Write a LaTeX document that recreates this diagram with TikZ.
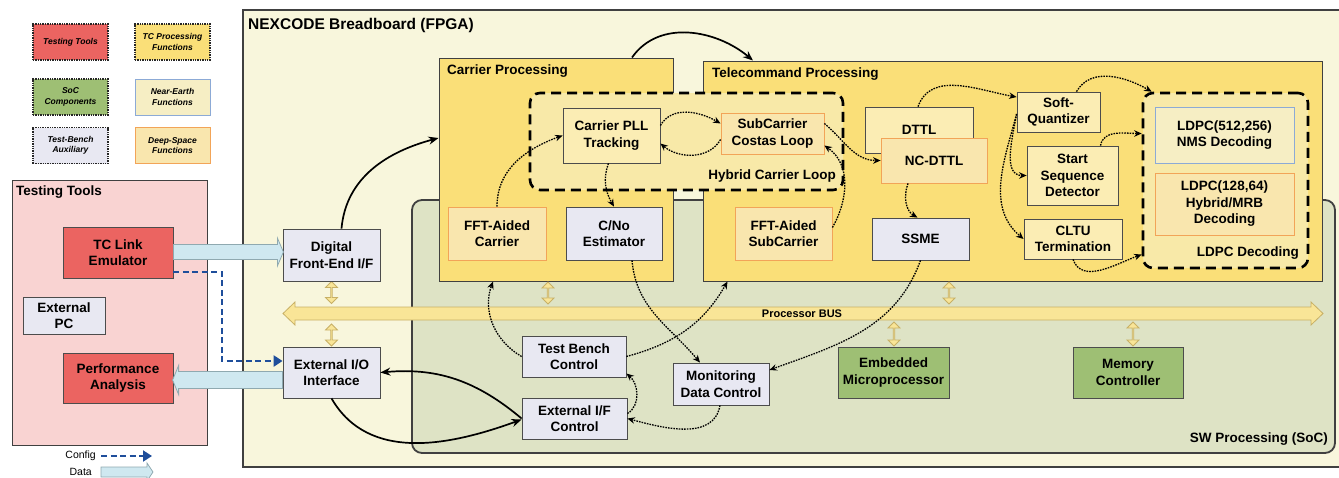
\documentclass[tikz,border=0pt]{standalone}
\usepackage{fontspec}
\setmainfont{Liberation Sans}
\usepackage{tikz}
\usetikzlibrary{arrows.meta, shapes.arrows, calc, positioning}

\definecolor{ttred}{HTML}{EB6461}
\definecolor{ttpink}{HTML}{F9D3D2}
\definecolor{tcyellow}{HTML}{FADF78}
\definecolor{socgreen}{HTML}{9EBF74}
\definecolor{swgreen}{HTML}{DEE3C5}
\definecolor{fpgacream}{HTML}{F8F6DC}
\definecolor{lav}{HTML}{E8E8F2}
\definecolor{paleyel}{HTML}{FBEDB4}
\definecolor{loopyel}{HTML}{F8E9A8}
\definecolor{neblue}{HTML}{8CAAD6}
\definecolor{nefill}{HTML}{F6EEC4}
\definecolor{dsorange}{HTML}{F2A458}
\definecolor{dsfill}{HTML}{F9E6AE}
\definecolor{busyel}{HTML}{F9E597}
\definecolor{busedge}{HTML}{C8B065}
\definecolor{datablue}{HTML}{CFE8F0}
\definecolor{dataedge}{HTML}{8FA9B0}
\definecolor{cfgblue}{HTML}{1F4E9B}

\tikzset{
    blk/.style={draw=black!70, line width=0.8pt, align=center, inner sep=0pt,
        font=\fontsize{13.5}{16.5}\selectfont\bfseries},
    lgd/.style={draw=black!85, densely dotted, line width=1.4pt, align=center, inner sep=0pt,
        minimum width=75pt, minimum height=36pt,
        font=\fontsize{8.5}{10.5}\selectfont\bfseries\itshape},
    panel/.style={draw=black!75, line width=1pt, inner sep=0pt},
    loopbox/.style={draw=black, line width=2.6pt, dash pattern=on 10pt off 6pt,
        rounded corners=10pt, fill=loopyel, inner sep=0pt},
    hdr/.style={inner sep=0pt, font=\fontsize{13.5}{16}\selectfont\bfseries},
    nearearth/.style={blk, draw=neblue, fill=nefill},
    deepspace/.style={blk, draw=dsorange, fill=dsfill},
    sig/.style={line width=1.3pt, dash pattern=on 1.6pt off 1.1pt,
        -{Stealth[length=7.5pt, width=6.5pt]}},
    flow/.style={line width=1.7pt, -{Stealth[length=10pt, width=8pt]}},
    cfg/.style={draw=cfgblue, line width=2.4pt, dash pattern=on 6pt off 3.5pt,
        -{Triangle[length=9pt, width=11pt]}},
    hollow/.style={draw=dataedge, fill=datablue, line width=0.8pt},
    busline/.style={draw=busedge, fill=busyel, line width=0.8pt},
    busarrow/.style={double arrow, draw=busedge, fill=busyel, line width=0.8pt,
        inner sep=0pt, minimum width=12pt, double arrow head extend=3pt}
}

\begin{document}
\begin{tikzpicture}[x=1pt, y=-1pt]
\useasboundingbox (0,0) rectangle (1339,477);

\node[lgd, fill=ttred] (lgtt) at (70.5,42) {Testing Tools};
\node[lgd, fill=tcyellow] (lgtc) at (172.5,42) {TC Processing\\Functions};
\node[lgd, fill=socgreen] (lgsoc) at (70.5,97) {SoC\\Components};
\node[lgd, solid, line width=0.9pt, draw=neblue, fill=nefill] (lgne) at (172.5,97) {Near-Earth\\Functions};
\node[lgd, fill=lav] (lgtb) at (70.5,145.5) {Test-Bench\\Auxiliary};
\node[lgd, solid, line width=0.9pt, draw=dsorange, fill=dsfill] (lgds) at (172.5,145.5) {Deep-Space\\Functions};

\node[panel, fill=ttpink, minimum width=195pt, minimum height=265pt] (tools) at (109.5,312.5) {};
\node[hdr, anchor=west] at (16,192) {Testing Tools};
\node[blk, fill=ttred, minimum width=110pt, minimum height=51pt] (tcle) at (118,252.5) {TC Link\\Emulator};
\node[blk, fill=lav, minimum width=82pt, minimum height=37pt] (xpc) at (64,315.5) {External\\PC};
\node[blk, fill=ttred, minimum width=110pt, minimum height=50pt] (perf) at (118,378) {Performance\\Analysis};

\node[panel, line width=1.3pt, fill=fpgacream, minimum width=1097pt, minimum height=457pt] (fpga) at (791.5,238.5) {};
\node[hdr, anchor=west, font=\fontsize{15.5}{18}\selectfont\bfseries] at (248,25) {NEXCODE Breadboard (FPGA)};

\node[panel, line width=1.8pt, rounded corners=10pt, fill=swgreen, minimum width=923pt, minimum height=253pt] (sw) at (873.5,326.5) {};
\node[hdr, anchor=east] at (1328,439) {SW Processing (SoC)};

\node[panel, fill=tcyellow, minimum width=234pt, minimum height=223pt] (carrier) at (556,169.5) {};
\node[hdr, anchor=west] at (447,71) {Carrier Processing};
\node[panel, fill=tcyellow, minimum width=619pt, minimum height=220pt] (telecom) at (1012.5,171) {};
\node[hdr, anchor=west] at (712,74) {Telecommand Processing};

\filldraw[busline] (283,313.5) -- ++(12,-11.5) -- ++(0,5) -- (1311,307) -- ++(0,-5) -- (1323,313.5)
    -- ++(-12,11.5) -- ++(0,-5) -- (295,320) -- ++(0,5) -- cycle;
\node[hdr, font=\fontsize{11}{13}\selectfont\bfseries] (bus) at (802,313.5) {Processor BUS};
\node[busarrow, shape border rotate=90, minimum height=22pt] at (331.5,292.5) {};
\node[busarrow, shape border rotate=90, minimum height=22pt] at (331.5,335) {};
\node[busarrow, shape border rotate=90, minimum height=22pt] at (548,293) {};
\node[busarrow, shape border rotate=90, minimum height=22pt] at (949,293) {};
\node[busarrow, shape border rotate=90, minimum height=24pt] at (894,334) {};
\node[busarrow, shape border rotate=90, minimum height=24pt] at (1133,334) {};

\node[loopbox, minimum width=313pt, minimum height=97pt] (hcl) at (686.5,141.5) {};
\node[hdr, anchor=east] at (836,176) {Hybrid Carrier Loop};
\node[loopbox, minimum width=165pt, minimum height=175pt] (ldpc) at (1225.5,180.5) {};
\node[hdr, anchor=east] at (1299,253) {LDPC Decoding};

\node[blk, fill=paleyel, minimum width=97pt, minimum height=55pt] (pll) at (611.5,135.5) {Carrier PLL\\Tracking};
\node[deepspace, minimum width=103pt, minimum height=41pt] (sub) at (772.5,133.5) {SubCarrier\\Costas Loop};
\node[blk, fill=paleyel, minimum width=108pt, minimum height=46pt] (dttl) at (919,130) {DTTL};
\node[deepspace, minimum width=106pt, minimum height=45pt] (ncdttl) at (934,160.5) {NC-DTTL};
\node[blk, fill=paleyel, minimum width=83pt, minimum height=40pt] (sq) at (1058.5,112) {Soft-\\Quantizer};
\node[blk, fill=paleyel, minimum width=91pt, minimum height=59pt] (ssd) at (1072.5,175.5) {Start\\Sequence\\Detector};
\node[blk, fill=paleyel, minimum width=98pt, minimum height=40pt] (cltu) at (1073,239) {CLTU\\Termination};
\node[nearearth, minimum width=139pt, minimum height=56pt] (ldpca) at (1224.5,135) {LDPC(512,256)\\NMS Decoding};
\node[deepspace, minimum width=139pt, minimum height=62pt] (ldpcb) at (1224.5,204) {LDPC(128,64)\\Hybrid/MRB\\Decoding};
\node[deepspace, minimum width=98pt, minimum height=53pt] (fftc) at (497,233.5) {FFT-Aided\\Carrier};
\node[blk, fill=lav, minimum width=96pt, minimum height=53pt] (cno) at (614,233.5) {C/No\\Estimator};
\node[deepspace, minimum width=97pt, minimum height=53pt] (fftsc) at (783.5,233.5) {FFT-Aided\\SubCarrier};
\node[blk, fill=lav, minimum width=97pt, minimum height=42pt] (ssme) at (920.5,239) {SSME};

\node[blk, fill=lav, minimum width=97pt, minimum height=52pt] (dfe) at (331.5,255) {Digital\\Front-End I/F};
\node[blk, fill=lav, minimum width=97pt, minimum height=51pt] (extio) at (331.5,372.5) {External I/O\\Interface};
\node[blk, fill=lav, minimum width=104pt, minimum height=41pt] (tbc) at (574,356.5) {Test Bench\\Control};
\node[blk, fill=lav, minimum width=105pt, minimum height=41pt] (extif) at (574.5,418.5) {External I/F\\Control};
\node[blk, fill=lav, minimum width=96pt, minimum height=42pt] (mdc) at (721,384) {Monitoring\\Data Control};
\node[blk, fill=socgreen, minimum width=111pt, minimum height=51pt] (emb) at (893.5,372.5) {Embedded\\Microprocessor};
\node[blk, fill=socgreen, minimum width=110pt, minimum height=51pt] (mem) at (1128,372.5) {Memory\\Controller};

\coordinate (d1) at ([yshift=0.5pt]tcle.east);
\filldraw[hollow] (d1) ++(0,-7.5) -- ++(104,0) -- ++(0,-6.5) -- ++(6,14) -- ++(-6,14) -- ++(0,-6.5) -- ++(-104,0) -- cycle;
\coordinate (d2) at ([yshift=-7.5pt]extio.west);
\filldraw[hollow] (d2) ++(0,-8.5) -- ++(-104,0) -- ++(0,-6) -- ++(-6,14.5) -- ++(6,14.5) -- ++(0,-6) -- ++(104,0) -- cycle;

\coordinate (cfgbend) at (222,272);
\draw[cfg] ([yshift=-19.5pt]tcle.east) -- (cfgbend) |- ([yshift=11.5pt]extio.west);

\draw[flow] ([xshift=10pt]dfe.north) to[out=85, in=195] ([yshift=31.5pt]carrier.west);
\draw[flow] ([xshift=76pt]carrier.north) to[out=55, in=140] ([xshift=-259.5pt]telecom.north);
\draw[flow] (extif.west) to[out=140, in=5] (extio.east);
\draw[flow] (extio.south) to[out=-60, in=200] ([yshift=-1pt]extif.west);

\draw[sig] (fftc.north) to[out=90, in=200] (pll.west);
\draw[sig] ([yshift=10pt]pll.east) to[out=60, in=150] ([yshift=10pt]sub.west);
\draw[sig] ([yshift=-6pt]sub.west) to[out=-120, in=-40] ([yshift=-8pt]pll.east);
\draw[sig] ([xshift=-3pt]pll.south) to[out=-110, in=120] (cno.north);
\draw[sig] ([yshift=10pt]sub.east) to[out=-40, in=180] (ncdttl.west);
\draw[sig] ([yshift=6pt]fftsc.east) to[out=60, in=-35] ([yshift=-12pt]sub.east);
\draw[sig] ([xshift=-1pt]dttl.north) to[out=70, in=170] ([yshift=15pt]sq.west);
\draw[sig] ([xshift=-26pt]ncdttl.south) to[out=-110, in=150] ([xshift=-3pt]ssme.north);
\draw[sig] ([yshift=-2pt]sq.west) to[out=-100, in=180] (ssd.west);
\draw[sig] ([yshift=-2pt]sq.west) to[out=-105, in=140] (cltu.west);
\draw[sig] ([xshift=18pt]sq.north) to[out=60, in=150] ([xshift=10pt]ldpc.north west);
\draw[sig] ([xshift=28pt]ssd.north) to[out=80, in=180] ([yshift=47pt]ldpc.west);
\draw[sig] (cltu.south) to[out=-70, in=200] ([yshift=-74pt]ldpc.west);
\draw[sig] (tbc.west) to[out=150, in=-110] ([xshift=-63pt]carrier.south);
\draw[sig] (tbc.east) to[out=15, in=-120] ([xshift=-285pt]telecom.south);
\draw[sig] ([xshift=18pt]cno.south) to[out=-85, in=130] ([xshift=-21pt]mdc.north);
\draw[sig] (ssme.south) to[out=-110, in=20] ([yshift=14pt]mdc.east);
\draw[sig] ([xshift=-1pt]mdc.south) to[out=-100, in=-15] (extif.east);
\draw[sig] ([yshift=5pt]extif.east) to[out=30, in=-40] ([yshift=-17pt]tbc.east);

\node[anchor=east, inner sep=0pt, font=\fontsize{10.5}{12}\selectfont] (cfglbl) at (96,456) {Config};
\draw[cfg, line width=2pt] ([xshift=5pt]cfglbl.east) -- ++(51,0);
\node[anchor=east, inner sep=0pt, font=\fontsize{10.5}{12}\selectfont] (datalbl) at (92,472) {Data};
\coordinate (d3) at ([xshift=9pt]datalbl.east);
\filldraw[hollow] (d3) ++(0,-5) -- ++(46,0) -- ++(0,-4) -- ++(6,9) -- ++(-6,9) -- ++(0,-4) -- ++(-46,0) -- cycle;
\end{tikzpicture}
\end{document}
